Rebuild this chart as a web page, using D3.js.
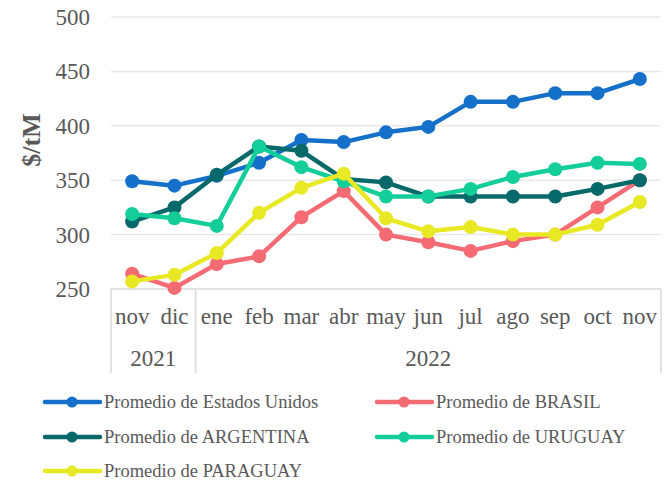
<!DOCTYPE html>
<html><head><meta charset="utf-8">
<script src="https://cdn.jsdelivr.net/npm/d3@7"></script>
<style>body{margin:0;background:#fff}svg{display:block}</style>
</head><body>
<svg id="c" width="669" height="480"></svg>
<script>
const months = ["nov","dic","ene","feb","mar","abr","may","jun","jul","ago","sep","oct","nov"];
const years = [{label:"2021", from:0, to:2},{label:"2022", from:2, to:13}];
const yTicks = [250,300,350,400,450,500];
const seriesNames = ["Promedio de Estados Unidos","Promedio de BRASIL","Promedio de ARGENTINA","Promedio de URUGUAY","Promedio de PARAGUAY"];
const colors = ["#1470C8","#F46B74","#08696A","#14CE9A","#E8E824"];
const usa = [349,345,354,366,387,385,394,399,422,422,430,430,443];
const brasil = [264,251,273,280,316,340,300,293,285,294,300,325,350];
const argentina = [312,325,355,381,377,351,348,335,335,335,335,342,350];
const uruguay = [319,315,308,381,362,349,335,335,342,353,360,366,365];
const paraguay = [257,263,283,320,343,356,315,303,307,300,300,309,330];
const values = [usa, brasil, argentina, uruguay, paraguay];

const svg = d3.select("#c");
const FONT = '"Liberation Serif"';
const textColor = "#595959";
const x0 = 111, x1 = 661, yTop = 17, yBot = 289;
const x = d3.scaleBand().domain(d3.range(months.length)).range([x0, x1]);
const y = d3.scaleLinear().domain([250, 500]).range([yBot, yTop]);

function styleText(sel, size, weight) {
  return sel.style("font-family", FONT).style("font-size", size + "px")
    .style("font-weight", weight || "normal").attr("fill", textColor);
}

// gridlines
svg.append("g").selectAll("line").data(yTicks.filter(t => t > 250)).join("line")
  .attr("x1", x0).attr("x2", x1).attr("y1", d => y(d)).attr("y2", d => y(d))
  .attr("stroke", "#e8e8e8").attr("stroke-width", 1.5);

// y tick labels
styleText(svg.append("g").selectAll("text").data(yTicks).join("text")
  .attr("x", 90).attr("y", d => y(d) + 8).attr("text-anchor", "end")
  .text(d => d), 23);

// y label
styleText(svg.append("text").attr("transform", "translate(40,140) rotate(-90)")
  .attr("text-anchor", "middle").text("$/tM"), 26, "bold");

// category axis box
const axisG = svg.append("g").attr("stroke", "#d9d9d9").attr("stroke-width", 1.5);
axisG.append("line").attr("x1", x0).attr("x2", x1).attr("y1", yBot).attr("y2", yBot);
const seps = [0, years[0].to, months.length];
axisG.selectAll("line.sep").data(seps).join("line").attr("class", "sep")
  .attr("x1", d => d === months.length ? x1 : x(d)).attr("x2", d => d === months.length ? x1 : x(d))
  .attr("y1", yBot).attr("y2", 373);

styleText(svg.append("g").selectAll("text").data(months).join("text")
  .attr("x", (d, i) => x(i) + x.bandwidth() / 2).attr("y", 324).attr("text-anchor", "middle")
  .text(d => d), 23);

styleText(svg.append("g").selectAll("text").data(years).join("text")
  .attr("x", d => ((d.from === 0 ? x0 : x(d.from)) + (d.to === months.length ? x1 : x(d.to))) / 2)
  .attr("y", 366).attr("text-anchor", "middle").text(d => d.label), 23);

// lines
const line = d3.line().x((d, i) => x(i) + x.bandwidth() / 2).y(d => y(d));
values.forEach((vals, s) => {
  const g = svg.append("g");
  g.append("path").datum(vals).attr("d", line).attr("fill", "none")
    .attr("stroke", colors[s]).attr("stroke-width", 4.5).attr("stroke-linejoin", "round");
  g.selectAll("circle").data(vals).join("circle")
    .attr("cx", (d, i) => x(i) + x.bandwidth() / 2).attr("cy", d => y(d))
    .attr("r", 7).attr("fill", colors[s]);
});

// legend
const legPos = [[45,402],[377,402],[45,437],[377,437],[45,471]];
seriesNames.forEach((name, s) => {
  const [lx, ly] = legPos[s];
  const g = svg.append("g");
  g.append("line").attr("x1", lx).attr("x2", lx + 55).attr("y1", ly).attr("y2", ly)
    .attr("stroke", colors[s]).attr("stroke-width", 4.5).attr("stroke-linecap", "round");
  g.append("circle").attr("cx", lx + 27).attr("cy", ly).attr("r", 5.5).attr("fill", colors[s]);
  styleText(g.append("text").attr("x", lx + 59).attr("y", ly + 6).text(name), 18.5);
});
</script>
</body></html>
